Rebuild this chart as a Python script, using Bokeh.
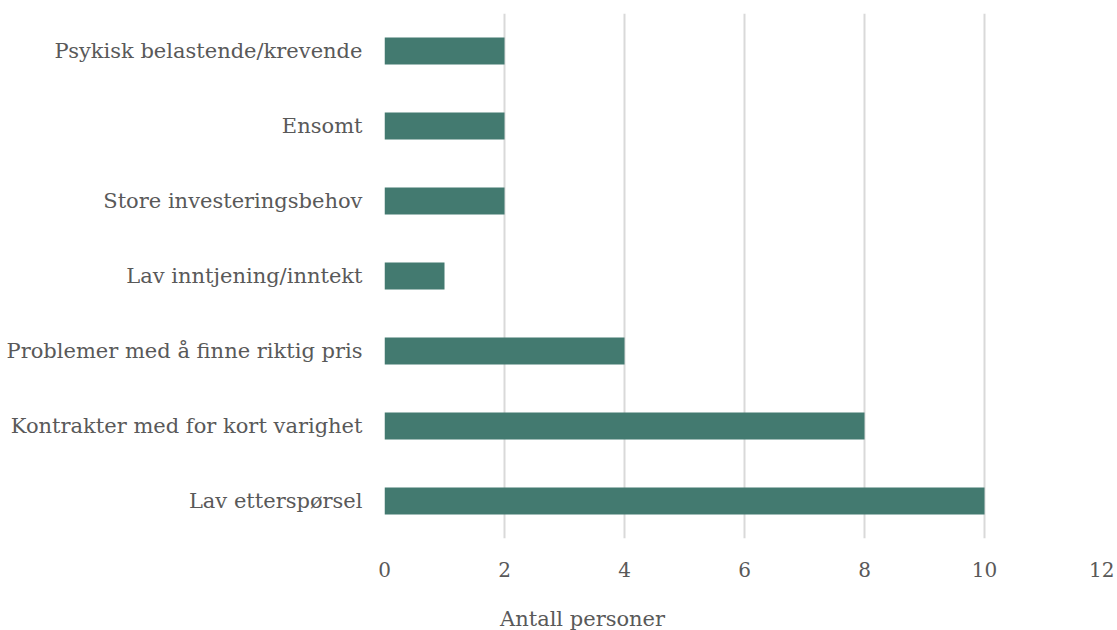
from bokeh.plotting import figure
from bokeh.models import ColumnDataSource, Legend, LegendItem, FixedTicker, CDSView, IndexFilter
from bokeh.layouts import column
from bokeh.embed import file_html
from bokeh.resources import INLINE

categories = [
    "Lav etterspørsel",
    "Kontrakter med for kort varighet",
    "Problemer med å finne riktig pris",
    "Lav inntjening/inntekt",
    "Store investeringsbehov",
    "Ensomt",
    "Psykisk belastende/krevende",
]
values = [10, 8, 4, 1, 2, 2, 2]
series_name = "Antall personer"
x_ticks = [0, 2, 4, 6, 8, 10, 12]

FONT = "DejaVu Serif"
GRAY = "#595959"
BAR = "#437a70"

src = ColumnDataSource(dict(cat=categories, val=values))

p = figure(
    y_range=categories, x_range=(0, 12),
    frame_width=720, frame_height=525,
    output_backend="svg", toolbar_location=None,
    min_border_left=384, min_border_right=10, min_border_top=13, min_border_bottom=0,
)
p.outline_line_color = None
r = p.hbar(y="cat", right="val", left=0, height=0.36, source=src,
           fill_color=BAR, line_color=None)

p.xaxis.ticker = FixedTicker(ticks=x_ticks)
p.xaxis.axis_line_color = None
p.xaxis.major_tick_line_color = None
p.xaxis.minor_tick_line_color = None
p.xaxis.major_tick_out = 0
p.xaxis.major_label_text_font = FONT
p.xaxis.major_label_text_font_size = "20px"
p.xaxis.major_label_text_color = GRAY
p.xaxis.major_label_standoff = 23

p.yaxis.axis_line_color = None
p.yaxis.major_tick_line_color = None
p.yaxis.major_tick_out = 0
p.yaxis.major_label_text_font = FONT
p.yaxis.major_label_text_font_size = "21px"
p.yaxis.major_label_text_color = GRAY
p.yaxis.major_label_standoff = 22

p.xgrid.grid_line_color = "#d9d9d9"
p.xgrid.grid_line_width = 2
p.ygrid.grid_line_color = None

# legend strip below the chart (same series; its bars are filtered out)
p2 = figure(
    y_range=categories, x_range=(0, 12),
    width=1107, height=52,
    output_backend="svg", toolbar_location=None,
    min_border_left=384, min_border_right=10, min_border_top=0, min_border_bottom=0,
)
p2.outline_line_color = None
p2.axis.visible = False
p2.grid.grid_line_color = None
r2 = p2.hbar(y="cat", right="val", left=0, height=0.36, source=src,
             view=CDSView(filter=IndexFilter([])),
             fill_color=BAR, line_color=None)

legend = Legend(items=[LegendItem(label=series_name, renderers=[r2])],
                orientation="horizontal", location=(99, 0),
                label_text_font=FONT, label_text_font_size="21px",
                label_text_color=GRAY, glyph_width=13, glyph_height=13,
                label_height=21, label_standoff=4,
                border_line_color=None, background_fill_alpha=0,
                padding=0, margin=0)
p2.add_layout(legend)

layout = column(p, p2, spacing=0)

open("out.html", "w").write(file_html(layout, INLINE))
